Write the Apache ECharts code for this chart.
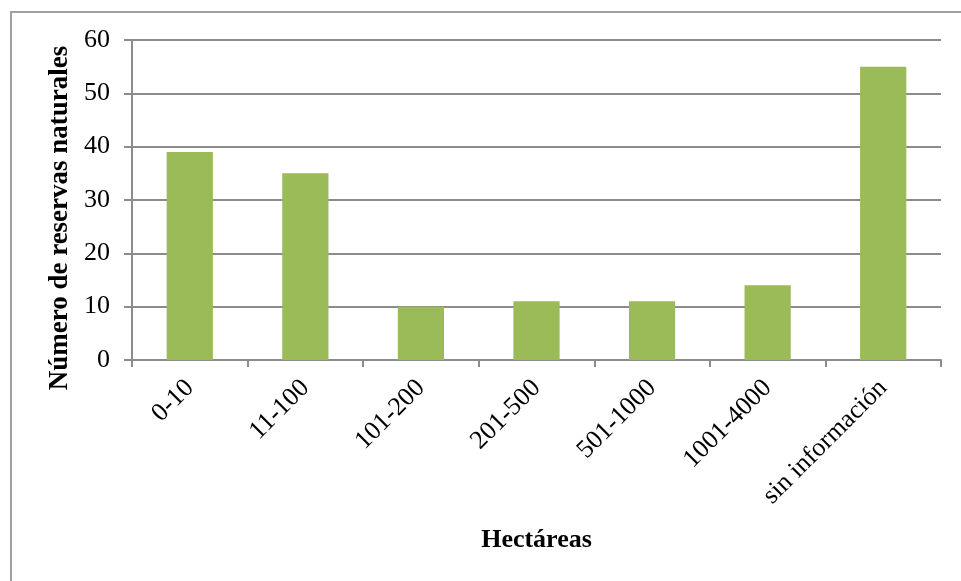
<!DOCTYPE html>
<html>
<head>
<meta charset="utf-8">
<script src="https://cdn.jsdelivr.net/npm/echarts@6/dist/echarts.min.js"></script>
<style>
  html, body { margin: 0; padding: 0; background: #fff; }
  #main { width: 961px; height: 581px; }
</style>
</head>
<body>
<div id="main"></div>
<script>
// categorías de hectáreas y número de reservas
const categories = ['0-10', '11-100', '101-200', '201-500', '501-1000', '1001-4000', 'sin información'];
const values = [39, 35, 10, 11, 11, 14, 55];
const yTicks = { min: 0, max: 60, interval: 10 };

const font = '"Liberation Serif", "Times New Roman", serif';
const chart = echarts.init(document.getElementById('main'));

chart.setOption({
  backgroundColor: '#fff',
  animation: false,
  graphic: [{
    type: 'rect',
    shape: { x: 11, y: 12, width: 1100, height: 1000 },
    style: { fill: 'none', stroke: '#a0a0a0', lineWidth: 2 },
    silent: true
  }],
  grid: { left: 132, right: 20, top: 40, bottom: 221 },
  xAxis: {
    type: 'category',
    data: categories,
    name: 'Hectáreas',
    nameLocation: 'middle',
    nameGap: 167,
    nameTextStyle: { fontFamily: font, fontSize: 26, fontWeight: 'bold', color: '#000', verticalAlign: 'top' },
    axisLine: { lineStyle: { color: '#8c8c8c', width: 2 } },
    axisTick: { show: true, length: 7, lineStyle: { color: '#8c8c8c', width: 2 } },
    axisLabel: { rotate: 45, margin: 24, fontFamily: font, fontSize: 26, color: '#000', interval: 0 }
  },
  yAxis: {
    type: 'value',
    min: yTicks.min,
    max: yTicks.max,
    interval: yTicks.interval,
    name: 'Número de reservas naturales',
    nameLocation: 'middle',
    nameRotate: 90,
    nameGap: 56,
    nameTextStyle: { fontFamily: font, fontSize: 27, fontWeight: 'bold', color: '#000', padding: [0, 36, 0, 0] },
    axisLine: { show: true, lineStyle: { color: '#8c8c8c', width: 2 } },
    axisTick: { show: true, length: 8, lineStyle: { color: '#8c8c8c', width: 2 } },
    axisLabel: { margin: 22, fontFamily: font, fontSize: 26, color: '#000' },
    splitLine: { lineStyle: { color: '#8c8c8c', width: 2 } }
  },
  series: [{
    type: 'bar',
    data: values,
    barWidth: '40%',
    itemStyle: { color: '#9bbb59' }
  }]
});
</script>
</body>
</html>
